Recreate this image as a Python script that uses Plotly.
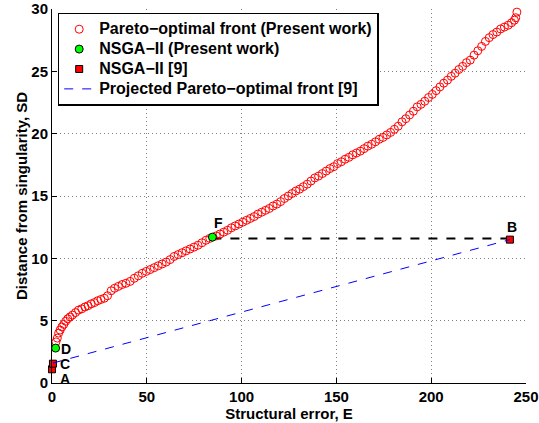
import plotly.graph_objects as go

# Pareto-optimal front (Present work)
pareto_x = [2.1, 2.8, 3.5, 4.3, 5.2, 6.2, 7.2, 8.3, 9.5, 10.8, 12.4, 14.0, 15.7, 17.4, 19.0, 20.7, 22.4, 24.1,
            25.8, 27.6, 29.3,
            31.2, 33.0, 35.0, 37.0, 39.0, 41.2, 43.4, 45.5, 47.6, 49.7, 51.8, 53.9, 56.0, 58.1, 60.2,
            62.3, 64.4, 66.5, 68.6, 70.7, 72.8, 74.9, 77.0, 79.1, 81.2, 83.2,
            86.6, 88.6, 90.6, 92.6, 94.6, 96.6, 98.6, 100.6, 102.6, 104.6, 106.6, 108.6, 110.6, 112.6, 114.6,
            116.6, 118.6,
            120.6, 122.6, 124.6, 126.6, 128.6, 130.6, 132.6, 134.6, 136.6, 138.6, 140.6, 142.6, 144.6, 146.6,
            148.6, 150.6, 152.6, 154.6, 156.6, 158.6, 160.6, 162.6, 164.6, 166.6, 168.6, 170.6, 172.6, 174.6,
            176.6, 178.6, 180.6, 182.6, 184.6, 186.6, 188.6,
            190.6, 192.6, 194.6, 196.6, 198.6, 200.6, 202.6, 204.6, 206.6, 208.6, 210.6, 212.6, 214.6, 216.6,
            218.6, 220.6, 222.6, 224.6, 226.6, 228.6, 230.6, 232.6, 234.6, 236.6, 238.6, 240.6, 242.4, 243.9,
            244.6, 245.2]
pareto_y = [3.3, 3.6, 4.0, 4.25, 4.5, 4.7, 4.95, 5.15, 5.3, 5.45, 5.65, 5.85, 5.95, 6.1, 6.2, 6.35, 6.45, 6.6,
            6.7, 6.8, 7.0,
            7.4, 7.6, 7.75, 7.9, 8.0, 8.15, 8.4, 8.6, 8.8, 8.95, 9.1, 9.25, 9.4, 9.55, 9.7,
            9.9, 10.15, 10.3, 10.45, 10.6, 10.75, 10.9, 11.05, 11.25, 11.45, 11.6,
            11.8, 11.95, 12.1, 12.25, 12.45, 12.6, 12.75, 12.9, 13.05, 13.2, 13.35, 13.55, 13.7, 13.85, 14.0,
            14.2, 14.35,
            14.55, 14.8, 15.0, 15.2, 15.4, 15.55, 15.75, 15.95, 16.2, 16.45, 16.6, 16.8, 17.0, 17.2,
            17.35, 17.6, 17.75, 17.95, 18.1, 18.3, 18.45, 18.6, 18.8, 19.0, 19.15, 19.35, 19.55, 19.7,
            19.9, 20.1, 20.35, 20.6, 20.95, 21.2, 21.5,
            21.8, 22.15, 22.35, 22.6, 22.9, 23.15, 23.45, 23.75, 24.05, 24.3, 24.6, 24.85, 25.15, 25.4,
            25.7, 25.9, 26.3, 26.65, 27.0, 27.4, 27.7, 27.95, 28.15, 28.4, 28.55, 28.7, 28.9, 29.1,
            29.3, 29.75]

# NSGA-II (Present work): points D and F
nsga_pw_x = [1.9, 84.6]
nsga_pw_y = [2.8, 11.7]

# NSGA-II [9]: points A, C, B
nsga9_x = [0.0, 0.5, 241.5]
nsga9_y = [1.1, 1.55, 11.5]

# Projected Pareto-optimal front [9]
proj_x = [0.5, 241.5]
proj_y = [1.6, 11.5]

# horizontal reference F -> B
fb_x = [84.6, 241.5]
fb_y = [11.6, 11.6]

# point labels
label_text = ["A", "C", "D", "F", "B"]
label_x = [6.6, 7.0, 7.6, 87.7, 242.5]
label_y = [0.3, 1.5, 2.7, 12.8, 12.5]

series_names = ["Pareto\u2212optimal front (Present work)", "NSGA\u2212II (Present work)",
                "NSGA\u2212II [9]", "Projected Pareto\u2212optimal front [9]"]

FONT = "Liberation Sans, Arial, sans-serif"


def lg(name):
    return '<span style="font-size:16px">%s</span>' % name


fig = go.Figure()
fig.add_trace(go.Scatter(x=fb_x, y=fb_y, mode="lines", showlegend=False,
                         line=dict(color="black", width=2, dash="dash")))
fig.add_trace(go.Scatter(x=pareto_x, y=pareto_y, mode="markers", name=lg(series_names[0]),
                         cliponaxis=False,
                         marker=dict(symbol="circle-open", size=8, color="red", line=dict(width=1, color="red"))))
fig.add_trace(go.Scatter(x=nsga_pw_x, y=nsga_pw_y, mode="markers", name=lg(series_names[1]),
                         cliponaxis=False,
                         marker=dict(symbol="circle", size=8, color="#00ff00", line=dict(width=1, color="black"))))
fig.add_trace(go.Scatter(x=nsga9_x, y=nsga9_y, mode="markers", name=lg(series_names[2]),
                         cliponaxis=False,
                         marker=dict(symbol="square", size=7, color="red", line=dict(width=1, color="black"))))
fig.add_trace(go.Scatter(x=proj_x, y=proj_y, mode="lines", name=lg(series_names[3]),
                         line=dict(color="#0000ff", width=1, dash="dash")))

for t, x, y in zip(label_text, label_x, label_y):
    fig.add_annotation(x=x, y=y, text="<b>%s</b>" % t, showarrow=False, borderpad=0,
                       font=dict(family=FONT, size=14, color="black"))

fig.update_layout(
    width=539, height=423,
    margin=dict(l=52, r=13, t=9, b=40),
    paper_bgcolor="white", plot_bgcolor="white",
    font=dict(family=FONT, size=13, color="black"),
    legend=dict(x=0.012, y=0.99, xanchor="left", yanchor="top",
                bordercolor="black", borderwidth=1.5, bgcolor="white",
                font=dict(family=FONT, size=13, color="black", weight="bold"),
                tracegroupgap=0),
)
fig.update_xaxes(range=[0, 250], tickvals=[0, 50, 100, 150, 200, 250], automargin=False,
                 ticklabeloverflow="allow",
                 showline=True, linecolor="black", linewidth=1,
                 ticks="inside", ticklen=5, tickcolor="black",
                 showgrid=True, gridcolor="#808080", griddash="1px,3px", gridwidth=1,
                 zeroline=False,
                 tickfont=dict(family=FONT, size=15, weight="bold"),
                 title=dict(text="<b>Structural error, E</b>", standoff=2,
                            font=dict(family=FONT, size=15)))
fig.update_yaxes(range=[0, 30], tickvals=[0, 5, 10, 15, 20, 25, 30], automargin=False,
                 ticklabeloverflow="allow",
                 showline=True, linecolor="black", linewidth=1,
                 ticks="inside", ticklen=5, tickcolor="black",
                 showgrid=True, gridcolor="#808080", griddash="1px,3px", gridwidth=1,
                 zeroline=False,
                 tickfont=dict(family=FONT, size=15, weight="bold"),
                 title=dict(text="<b>Distance from singularity, SD</b>", standoff=0,
                            font=dict(family=FONT, size=15)))

# remove the browser's default page margin so the figure fills the window exactly
fig.write_html("out.html", config={"displayModeBar": False},
               post_script="document.body.style.margin='0';")
